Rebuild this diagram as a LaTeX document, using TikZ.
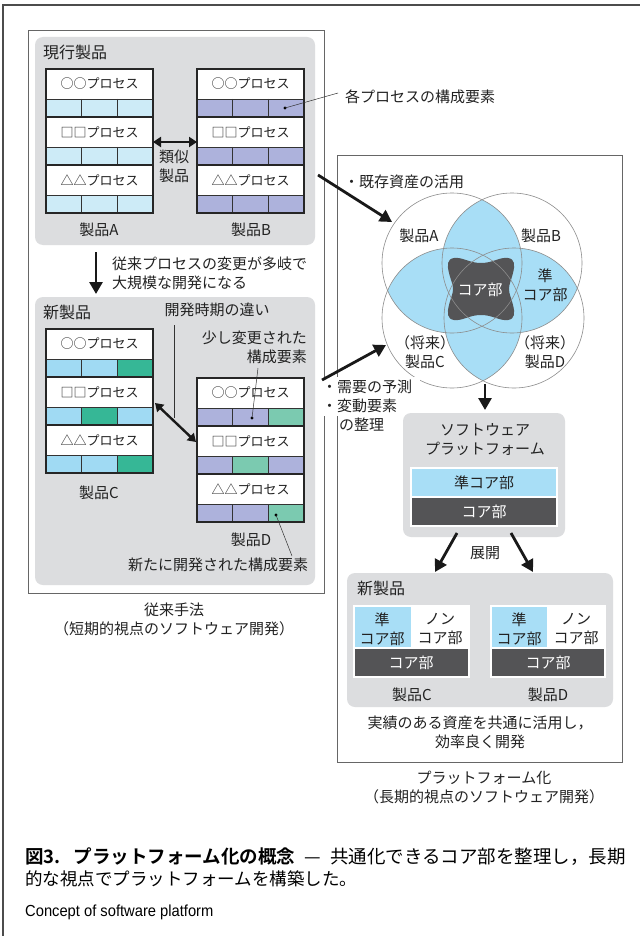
\documentclass[tikz,border=0pt]{standalone}
\usepackage{fontspec}
\setmainfont{Noto Sans CJK JP}[BoldFont={Noto Sans CJK JP Bold}]
\newfontfamily\latinsans{Liberation Sans}[FakeStretch=0.92]
\usetikzlibrary{arrows.meta,calc}
\definecolor{panel}{HTML}{DCDDDF}
\definecolor{lbA}{HTML}{CDEBF7}
\definecolor{blC}{HTML}{A0DAF3}
\definecolor{lav}{HTML}{ADB2DC}
\definecolor{grD}{HTML}{36B796}
\definecolor{grL}{HTML}{7BCAB0}
\definecolor{vblue}{HTML}{A8DEF6}
\definecolor{cored}{HTML}{545456}
\definecolor{framec}{HTML}{666666}
\definecolor{txtc}{HTML}{222222}
\tikzset{
  txt/.style={font=\fontsize{15}{19}\selectfont, text=txtc, inner sep=0pt, align=center},
  ttl/.style={font=\fontsize{16}{19}\selectfont, text=txtc, inner sep=0pt, anchor=west},
  ptext/.style={font=\fontsize{13}{15}\selectfont, text=txtc, inner sep=0pt},
  captxt/.style={font=\fontsize{18.5}{22}\selectfont, text=black, inner sep=0pt},
  thinln/.style={draw=black!80, line width=0.6pt},
  thickln/.style={draw=black!85, line width=1.6pt},
  panelbox/.style={fill=panel, rounded corners=8pt},
  framebox/.style={draw=framec, line width=0.8pt},
  arr/.style={draw=black!90, line width=2.8pt, -{Triangle[length=12pt,width=13pt]}},
  dblarr/.style={draw=black!90, line width=2.4pt, {Triangle[length=8pt,width=10pt]}-{Triangle[length=8pt,width=10pt]}},
  leader/.style={draw=black!80, line width=0.5pt},
  venn/.style={draw=black!45, line width=0.6pt},
}
\newcommand{\pstack}[4]{%
  \foreach \r/\ca/\cb/\cc/\lab in {#4} {
    \fill[white] (#2,#3+48*\r) rectangle (#2+107,#3+48*\r+30);
    \fill[\ca] (#2,#3+48*\r+30) rectangle (#2+35.67,#3+48*\r+48);
    \fill[\cb] (#2+35.67,#3+48*\r+30) rectangle (#2+71.33,#3+48*\r+48);
    \fill[\cc] (#2+71.33,#3+48*\r+30) rectangle (#2+107,#3+48*\r+48);
    \draw[thinln] (#2,#3+48*\r+30) -- (#2+107,#3+48*\r+30);
    \draw[thinln] (#2+35.67,#3+48*\r+30) -- (#2+35.67,#3+48*\r+48);
    \draw[thinln] (#2+71.33,#3+48*\r+30) -- (#2+71.33,#3+48*\r+48);
    \node[ptext] (#1-\r) at (#2+53.5,#3+48*\r+15) {\lab};
  }
  \draw[thickln] (#2,#3) rectangle (#2+107,#3+144);
  \draw[thickln] (#2,#3+48) -- (#2+107,#3+48);
  \draw[thickln] (#2,#3+96) -- (#2+107,#3+96);
}
\begin{document}
\begin{tikzpicture}[x=1pt,y=-1pt]
\useasboundingbox (0,0) rectangle (640,936);
\fill[white] (0,0) rectangle (640,936);
% outer frame
\draw[draw=black!70, line width=1.2pt] (3,936) -- (3,5) -- (640,5);

% ===== left section =====
\draw[framebox] (28,30) rectangle (324,593);
\fill[panelbox] (35,37) rectangle (315,245);
\node[ttl] (cur) at (43,52) {現行製品};
\pstack{pa}{46}{69}{0/lbA/lbA/lbA/○○プロセス, 1/lbA/lbA/lbA/□□プロセス, 2/lbA/lbA/lbA/△△プロセス}
\pstack{pb}{197}{69}{0/lav/lav/lav/○○プロセス, 1/lav/lav/lav/□□プロセス, 2/lav/lav/lav/△△プロセス}
\node[txt] (pA) at (99,230) {製品A};
\node[txt] (pB) at (251,230) {製品B};
\coordinate (abL) at (153,142);
\coordinate (abR) at (197,142);
\draw[dblarr] (abL) -- (abR);
\node[txt] (sim) at (174,166) {類似\\製品};
\fill[black] (285,108) circle[radius=1.6pt];
\coordinate (dotB) at (285,108);
\coordinate (ldB) at (338,93);
\draw[leader] (dotB) -- (ldB);
\node[txt, anchor=west] (elem) at (345,97) {各プロセスの構成要素};

\coordinate (dn1) at (96,252);
\coordinate (dn2) at (96,294);
\draw[arr] (dn1) -- (dn2);
\node[txt, anchor=west] (chg1) at (112,264) {従来プロセスの変更が多岐で};
\node[txt, anchor=west] (chg2) at (112,283) {大規模な開発になる};

\fill[panelbox] (35,297) rectangle (315,585);
\node[ttl] (newL) at (43,312) {新製品};
\node[txt] (diff) at (217,310) {開発時期の違い};
\coordinate (vl1) at (174,325);
\coordinate (vl2) at (174,418);
\draw[leader] (vl1) -- (vl2);
\pstack{pc}{46}{329}{0/blC/blC/grD/○○プロセス, 1/blC/grD/blC/□□プロセス, 2/blC/blC/grD/△△プロセス}
\pstack{pd}{197}{378}{0/lav/lav/grL/○○プロセス, 1/lav/grL/lav/□□プロセス, 2/lav/lav/grL/△△プロセス}
\node[txt] (pC) at (99,493) {製品C};
\node[txt] (pD) at (251,540) {製品D};
\node[txt, align=right, anchor=east] (mod) at (307,347) {少し変更された\\構成要素};
\coordinate (ldm) at (258,368);
\coordinate (dotm) at (252,418);
\fill[black] (dotm) circle[radius=1.6pt];
\draw[leader] (ldm) -- (dotm);
\node[txt] (newel) at (218,565) {新たに開発された構成要素};
\coordinate (ldn) at (292,556);
\coordinate (dotn) at (276,515);
\fill[black] (dotn) circle[radius=1.6pt];
\draw[leader] (ldn) -- (dotn);
\coordinate (cdL) at (155,403);
\coordinate (cdR) at (196,442);
\draw[dblarr] (cdL) -- (cdR);
\node[txt] (conv) at (174,619) {従来手法\\（短期的視点のソフトウェア開発）};

% ===== right section =====
\draw[framebox] (337,155) rectangle (622,762);
\node[txt, anchor=west] (reuse) at (344,182) {・既存資産の活用};

% Venn
\coordinate (cA) at (452,263);
\coordinate (cB) at (512,263);
\coordinate (cC) at (452,318);
\coordinate (cD) at (514,318);
\fill[white] (cA) circle[radius=70pt];
\fill[white] (cB) circle[radius=70pt];
\fill[white] (cC) circle[radius=70pt];
\fill[white] (cD) circle[radius=70pt];
\begin{scope}\clip (cA) circle[radius=70pt]; \fill[vblue] (cB) circle[radius=70pt]; \fill[vblue] (cC) circle[radius=70pt];\end{scope}
\begin{scope}\clip (cD) circle[radius=70pt]; \fill[vblue] (cB) circle[radius=70pt]; \fill[vblue] (cC) circle[radius=70pt];\end{scope}
\begin{scope}[shift={(481,289)}]
\fill[cored] (0,-26)
  .. controls (12,-26) and (18,-32) .. (27,-31)
  .. controls (34,-30) and (34,-24) .. (32,-16)
  .. controls (30,-8) and (28,-5) .. (28,0)
  .. controls (28,5) and (30,8) .. (32,16)
  .. controls (34,24) and (34,30) .. (27,31)
  .. controls (18,32) and (12,26) .. (0,26)
  .. controls (-12,26) and (-18,32) .. (-27,31)
  .. controls (-34,30) and (-34,24) .. (-32,16)
  .. controls (-30,8) and (-28,5) .. (-28,0)
  .. controls (-28,-5) and (-30,-8) .. (-32,-16)
  .. controls (-34,-24) and (-34,-30) .. (-27,-31)
  .. controls (-18,-32) and (-12,-26) .. (0,-26) -- cycle;
\end{scope}
\draw[venn] (cA) circle[radius=70pt];
\draw[venn] (cB) circle[radius=70pt];
\draw[venn] (cC) circle[radius=70pt];
\draw[venn] (cD) circle[radius=70pt];
\node[txt] (vA) at (419,236) {製品A};
\node[txt] (vB) at (541,236) {製品B};
\node[txt, text=white] (vcore) at (480,290) {コア部};
\node[txt] (vsemi) at (545,285) {準\\コア部};
\node[txt] (vC) at (425,352) {（将来）\\製品C};
\node[txt] (vD) at (545,352) {（将来）\\製品D};

\coordinate (a1s) at (318,175);
\coordinate (a1e) at (392,222);
\draw[arr] (a1s) -- (a1e);

\fill[white] (321,377) rectangle (420,416);
\node[txt, anchor=west] (b1) at (322,387) {・需要の予測};
\node[txt, anchor=west] (b2) at (322,406) {・変動要素};
\node[txt, anchor=west] (b3) at (339,425) {の整理};
\coordinate (a2s) at (322,380);
\coordinate (a2e) at (386,345);
\draw[arr] (a2s) -- (a2e);

\coordinate (d1) at (485,384);
\coordinate (d2) at (485,410);
\draw[arr] (d1) -- (d2);

\fill[panelbox] (403,413) rectangle (565,537);
\node[txt] (sw) at (485,440) {ソフトウェア\\プラットフォーム};
\node[txt, draw=white, line width=1.5pt, fill=vblue, minimum width=146pt, minimum height=29pt] (semi) at (484,482.5) {準コア部};
\node[txt, draw=white, line width=1.5pt, fill=cored, text=white, minimum width=146pt, minimum height=29pt] (core) at (484,511.5) {コア部};

\coordinate (e1s) at (457,533);
\coordinate (e1e) at (435,572);
\coordinate (e2s) at (511,533);
\coordinate (e2e) at (533,572);
\draw[arr] (e1s) -- (e1e);
\draw[arr] (e2s) -- (e2e);
\node[txt] (dev) at (485,553) {展開};

\fill[panelbox] (347,573) rectangle (613,707);
\node[ttl] (newR) at (357,588) {新製品};
% product C
\fill[vblue] (354,606) rectangle (411,648);
\fill[white] (411,606) rectangle (469,648);
\fill[cored] (354,648) rectangle (469,677);
\draw[white, line width=1.5pt] (354,606) rectangle (469,677);
\draw[white, line width=1.5pt] (354,648) -- (469,648);
\node[txt] (cs) at (382,629) {準\\コア部};
\node[txt] (cn) at (440,629) {ノン\\コア部};
\node[txt, text=white] (cc) at (411,663) {コア部};
\node[txt] (rC) at (412,695) {製品C};
% product D
\fill[vblue] (491,606) rectangle (547,648);
\fill[white] (547,606) rectangle (605,648);
\fill[cored] (491,648) rectangle (605,677);
\draw[white, line width=1.5pt] (491,606) rectangle (605,677);
\draw[white, line width=1.5pt] (491,648) -- (605,648);
\node[txt] (ds) at (519,629) {準\\コア部};
\node[txt] (dn) at (576,629) {ノン\\コア部};
\node[txt, text=white] (dc) at (548,663) {コア部};
\node[txt] (rD) at (548,695) {製品D};

\node[txt] (res) at (480,732) {実績のある資産を共通に活用し，\\効率良く開発};
\node[txt] (plat) at (484,787) {プラットフォーム化\\（長期的視点のソフトウェア開発）};

% ===== caption =====
\node[captxt, anchor=west] (cap1) at (25,857) {\textbf{図3.\hspace{0.7em}プラットフォーム化の概念}\hspace{0.5em}—\hspace{0.5em}共通化できるコア部を整理し，長期};
\node[captxt, anchor=west, font=\fontsize{17.5}{21}\selectfont] (cap2) at (25,879) {的な視点でプラットフォームを構築した。};
\node[anchor=west, inner sep=0pt, font=\latinsans\fontsize{16}{19}\selectfont] (cap3) at (25,912) {Concept of software platform};
\end{tikzpicture}
\end{document}
